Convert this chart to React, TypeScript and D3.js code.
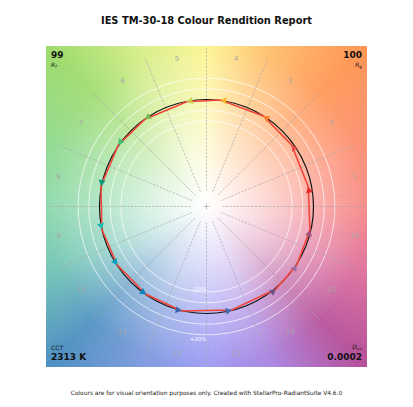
import { useEffect, useRef } from 'react'
import * as d3 from 'd3'

// --- DATA ---
const binLabels = ['1', '2', '3', '4', '5', '6', '7', '8', '9', '10', '11', '12', '13', '14', '15', '16']

const binColours = [
  '#e62828', '#e74b4b', '#fb812e', '#ffb529', '#cbca46', '#7eb94c', '#41c06d', '#009c7c',
  '#16bcb0', '#00a4bf', '#0085c3', '#3b62aa', '#4568ae', '#6a4e85', '#9d69a1', '#a74f81',
]

// average test chromaticity per hue bin (normalised, reference circle = 1)
const testX = [0.951, 0.796, 0.531, 0.13, -0.185, -0.575, -0.824, -0.986, -0.979, -0.834, -0.565, -0.232, 0.236, 0.647, 0.843, 0.967]
const testY = [0.185, 0.575, 0.846, 0.995, 0.979, 0.815, 0.575, 0.192, -0.213, -0.547, -0.821, -0.977, -0.967, -0.774, -0.547, -0.22]

const ringRadii = [0.8, 0.9, 1.1, 1.2]

// background hue wheel (angle in degrees, counter-clockwise from +x)
const bgAngles = [0, 22.5, 45, 67.5, 90, 112.5, 135, 157.5, 180, 202.5, 225, 247.5, 270, 292.5, 315, 337.5, 360]
const bgColours = [
  '#f7837f', '#fd8a6a', '#ff9452', '#ffbb66', '#fdf48c', '#d6ee84', '#9cdb6a', '#8cd88a',
  '#86d6a6', '#6cc2b2', '#4a8ec0', '#7694dc', '#9593f4', '#a47ee0', '#b44c98', '#dc6a98', '#f7837f',
]

const title = 'IES TM-30-18 Colour Rendition Report'
const footer = 'Colours are for visual orientation purposes only. Created with StellarPro-RadiantSuite V4.6.0'
const rfValue = '99'
const rgValue = '100'
const cctValue = '2313 K'
const duvValue = '0.0002'

const W = 413
const H = 407
const FONT = '"DejaVu Sans", sans-serif'

export default function App() {
  const svgRef = useRef<SVGSVGElement | null>(null)

  useEffect(() => {
    if (!svgRef.current) return
    const svg = d3.select<SVGSVGElement, unknown>(svgRef.current)
    svg.selectAll('*').remove()

    const left = 46
    const right = 367
    const top = 46
    const bottom = 367

    const x = d3.scaleLinear().domain([-1.5, 1.5]).range([left, right])
    const y = d3.scaleLinear().domain([-1.5, 1.5]).range([bottom, top])
    const unit = x(1) - x(0)
    const cx = x(0)
    const cy = y(0)

    const defs = svg.append('defs')
    defs
      .append('clipPath')
      .attr('id', 'plot-clip')
      .append('rect')
      .attr('x', left)
      .attr('y', top)
      .attr('width', right - left)
      .attr('height', bottom - top)

    const grad = defs
      .append('radialGradient')
      .attr('id', 'whiten')
      .attr('gradientUnits', 'userSpaceOnUse')
      .attr('cx', cx)
      .attr('cy', cy)
      .attr('r', 230)
    const stops: [number, number][] = [
      [0, 1],
      [0.1, 0.9],
      [0.3, 0.62],
      [0.47, 0.36],
      [0.7, 0.08],
      [1, 0],
    ]
    stops.forEach(([o, a]) => {
      grad.append('stop').attr('offset', o).attr('stop-color', '#fff').attr('stop-opacity', a)
    })

    // --- BACKGROUND ---
    const hueColour = d3
      .scaleLinear<string>()
      .domain(bgAngles)
      .range(bgColours)
      .interpolate(d3.interpolateRgb)

    const bg = svg.append('g').attr('clip-path', 'url(#plot-clip)')
    const wedge = d3.arc<number>()
      .innerRadius(0)
      .outerRadius(260)
      .startAngle((deg) => Math.PI / 2 - ((deg + 1) * Math.PI) / 180)
      .endAngle((deg) => Math.PI / 2 - (deg * Math.PI) / 180)

    bg.append('g')
      .attr('transform', `translate(${cx},${cy})`)
      .selectAll('path')
      .data(d3.range(0, 360, 1))
      .enter()
      .append('path')
      .attr('d', (d) => wedge(d) as string)
      .attr('fill', (d) => hueColour(d + 0.5))
      .attr('stroke', (d) => hueColour(d + 0.5))
      .attr('stroke-width', 0.6)

    bg.append('rect')
      .attr('x', left)
      .attr('y', top)
      .attr('width', right - left)
      .attr('height', bottom - top)
      .attr('fill', 'url(#whiten)')

    const plot = svg.append('g').attr('clip-path', 'url(#plot-clip)')

    // --- WHITE RINGS ---
    plot
      .selectAll('.ring')
      .data(ringRadii)
      .enter()
      .append('circle')
      .attr('class', 'ring')
      .attr('cx', cx)
      .attr('cy', cy)
      .attr('r', (r) => r * unit)
      .attr('fill', 'none')
      .attr('stroke', '#fff')
      .attr('stroke-width', 0.7)

    // --- BIN DIVIDERS AND NUMBERS ---
    d3.range(16).forEach((i) => {
      const a = (2 * Math.PI * i) / 16
      plot
        .append('line')
        .attr('x1', x(0.15 * Math.cos(a)))
        .attr('y1', y(0.15 * Math.sin(a)))
        .attr('x2', x(1.5 * Math.cos(a)))
        .attr('y2', y(1.5 * Math.sin(a)))
        .attr('stroke', '#a6a6a6')
        .attr('stroke-width', 0.7)
        .attr('stroke-dasharray', '2.2,1.4')
    })

    plot
      .selectAll('.binlabel')
      .data(binLabels)
      .enter()
      .append('text')
      .attr('class', 'binlabel')
      .attr('x', (_, i) => x(1.41 * Math.cos((2 * Math.PI * (i + 0.5)) / 16)))
      .attr('y', (_, i) => y(1.41 * Math.sin((2 * Math.PI * (i + 0.5)) / 16)))
      .attr('text-anchor', 'middle')
      .attr('dominant-baseline', 'central')
      .attr('fill', '#a6a6a6')
      .attr('font-family', FONT)
      .attr('font-size', 7)
      .text((d) => d)

    // centre marker
    plot.append('path')
      .attr('d', `M${cx - 3},${cy}H${cx + 3}M${cx},${cy - 3}V${cy + 3}`)
      .attr('stroke', '#a6a6a6')
      .attr('stroke-width', 0.7)

    // -/+20% marks
    plot.append('text')
      .attr('x', x(0))
      .attr('y', y(-0.8) - 1.5)
      .attr('text-anchor', 'end')
      .attr('fill', '#fff')
      .attr('font-family', FONT)
      .attr('font-size', 5.5)
      .text('-20%')
    plot.append('text')
      .attr('x', x(0))
      .attr('y', y(-1.2) + 6)
      .attr('text-anchor', 'end')
      .attr('fill', '#fff')
      .attr('font-family', FONT)
      .attr('font-size', 5.5)
      .text('+20%')

    // --- REFERENCE CIRCLE ---
    plot.append('circle')
      .attr('cx', cx)
      .attr('cy', cy)
      .attr('r', unit)
      .attr('fill', 'none')
      .attr('stroke', '#111')
      .attr('stroke-width', 1.2)

    // --- TEST POLYGON ---
    const pts: [number, number][] = testX.map((v, i) => [v, testY[i]])
    const line = d3.line<[number, number]>()
      .x((p) => x(p[0]))
      .y((p) => y(p[1]))
      .curve(d3.curveLinearClosed)
    plot.append('path')
      .datum(pts)
      .attr('d', line)
      .attr('fill', 'none')
      .attr('stroke', '#f2463a')
      .attr('stroke-width', 1.6)

    // --- ARROW HEADS ---
    const headLen = 6
    const headHalf = 3.5
    plot
      .selectAll('.arrow')
      .data(pts)
      .enter()
      .append('path')
      .attr('class', 'arrow')
      .attr('fill', (_, i) => binColours[i])
      .attr('d', (p) => {
        const th = Math.atan2(p[1], p[0])
        const tx = x(p[0])
        const ty = y(p[1])
        const dx = -Math.sin(th)
        const dy = -Math.cos(th)
        const bx = tx - dx * headLen
        const by = ty - dy * headLen
        return `M${tx},${ty}L${bx - dy * headHalf},${by + dx * headHalf}L${bx + dy * headHalf},${by - dx * headHalf}Z`
      })

    // --- CORNER TEXT ---
    const txt = (
      tx: number,
      ty: number,
      s: string,
      size: number,
      anchor: string,
      weight = 'normal',
      style = 'normal'
    ) =>
      svg.append('text')
        .attr('x', tx)
        .attr('y', ty)
        .attr('text-anchor', anchor)
        .attr('font-family', FONT)
        .attr('font-size', size)
        .attr('font-weight', weight)
        .attr('font-style', style)
        .attr('fill', '#111')
        .text(s)

    txt(51, 58, rfValue, 9, 'start', 'bold')
    const rf = txt(51, 66.5, 'R', 6, 'start', 'normal', 'italic')
    rf.append('tspan').attr('font-size', 4.2).attr('dy', 1.2).text('f')

    txt(362, 58, rgValue, 9, 'end', 'bold')
    const rg = txt(362, 66.5, 'R', 6, 'end', 'normal', 'italic')
    rg.append('tspan').attr('font-size', 4.2).attr('dy', 1.2).text('g')

    txt(51, 349.5, 'CCT', 6, 'start')
    txt(51, 359.5, cctValue, 9, 'start', 'bold')

    const du = txt(362, 348.5, 'D', 6, 'end', 'normal', 'italic')
    du.append('tspan').attr('font-size', 4.2).attr('dy', 1.2).text('uv')
    txt(362, 359.5, duvValue, 9, 'end', 'bold')

    // --- TITLE / FOOTER ---
    txt(206.5, 23.5, title, 9.9, 'middle', 'bold')
    txt(206.5, 394.5, footer, 5.9, 'middle').attr('fill', '#222')
  }, [])

  return (
    <div style={{ position: 'fixed', left: 0, top: 0, width: W, height: H, background: '#fff' }}>
      <svg ref={svgRef} width={W} height={H} />
    </div>
  )
}
